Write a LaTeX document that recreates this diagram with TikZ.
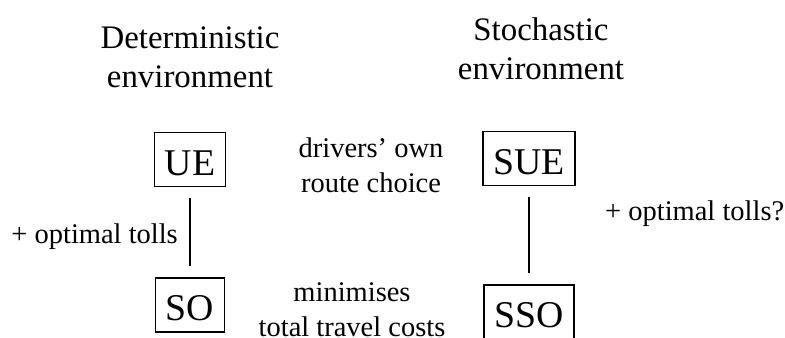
\documentclass[tikz,border=0pt]{standalone}
\usepackage{fontspec}
\setmainfont{Liberation Serif}
\usepackage{tikz}

\begin{document}
\begin{tikzpicture}[
  heading/.style={align=center, inner sep=0pt, font=\fontsize{18.7}{22.1}\selectfont},
  remark/.style={align=center, inner sep=0pt, font=\fontsize{16.2}{19.8}\selectfont},
  eqbox/.style={draw, line width=0.8pt, inner xsep=0.21cm, inner ysep=3.4pt,
    text height=20.8pt, text depth=3pt, font=\fontsize{21.5}{24}\selectfont},
  link/.style={line width=1.4pt, shorten <=0.22cm, shorten >=0.22cm}]
\useasboundingbox (0,0) rectangle (15.7,6.74);
\node[heading] (det) at (3.80,5.60) {Deterministic\\environment};
\node[heading] (sto) at (10.82,5.76) {Stochastic\\environment};
\node[eqbox] (ue) at (3.80,3.55) {UE};
\node[eqbox] (so) at (3.80,0.64) {SO};
\node[eqbox] (sue) at (10.58,3.57) {SUE};
\node[eqbox] (sso) at (10.58,0.50) {SSO};
\node[remark] (own) at (7.42,3.44) {drivers' own\\route choice};
\node[remark] (min) at (7.04,0.54) {minimises\\total travel costs};
\draw[link] (ue) -- node[remark, pos=0.55, left=0.22cm] (toll) {+ optimal tolls} (so);
\draw[link] (sue) -- node[remark, pos=0.28, right=1.5cm] (stoll) {+ optimal tolls?} (sso);
\end{tikzpicture}
\end{document}
